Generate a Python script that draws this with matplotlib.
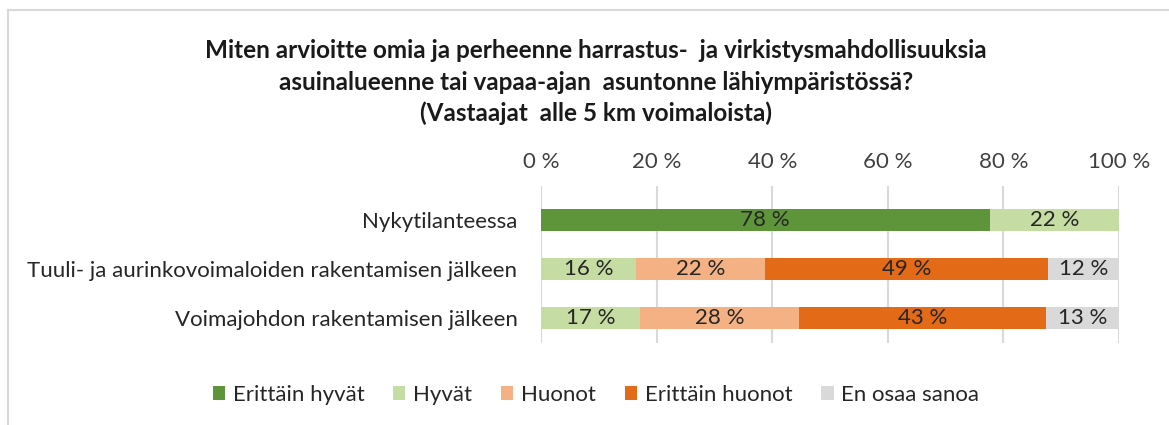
import numpy as np
import matplotlib.pyplot as plt
from matplotlib.lines import Line2D

plt.rcParams['font.family'] = ['Lato', 'DejaVu Sans']

# Data (shares in %)
categories = ['Nykytilanteessa',
              'Tuuli- ja aurinkovoimaloiden rakentamisen jälkeen',
              'Voimajohdon rakentamisen jälkeen']
series = ['Erittäin hyvät', 'Hyvät', 'Huonot', 'Erittäin huonot', 'En osaa sanoa']
erittain_hyvat = [77.6, 0, 0]
hyvat = [22.4, 16.4, 17.1]
huonot = [0, 22.4, 27.6]
erittain_huonot = [0, 48.9, 42.6]
en_osaa = [0, 12.3, 12.7]
colors = ['#5E943A', '#C5DCA2', '#F4B183', '#E36A16', '#D9D9D9']

values = [erittain_hyvat, hyvat, huonot, erittain_huonot, en_osaa]

fig = plt.figure(figsize=(11.69, 4.25), dpi=100)
ax = fig.add_axes([541 / 1169, 1 - 343 / 425, 578 / 1169, 157 / 425])

y = np.arange(len(categories))
left = np.zeros(len(categories))
for name, vals, col in zip(series, values, colors):
    vals = np.array(vals, dtype=float)
    ax.barh(y, vals, left=left, height=0.43, color=col, label=name, zorder=3)
    for yi, v, l in zip(y, vals, left):
        if v > 0:
            ax.text(l + v / 2, yi, f'{round(v)} %', ha='center', va='center',
                    fontsize=16, color='#262626', zorder=4)
    left += vals

ax.set_xlim(0, 100)
ax.set_ylim(2.51, -0.694)
ax.set_xticks(np.arange(0, 101, 20))
ax.set_xticklabels([f'{t} %' for t in range(0, 101, 20)])
ax.xaxis.tick_top()
ax.tick_params(axis='x', length=0, pad=10, labelsize=16, labelcolor='#404040')
ax.set_yticks(y)
ax.set_yticklabels(categories)
ax.tick_params(axis='y', length=0, pad=17, labelsize=16, labelcolor='#262626')
ax.grid(axis='x', color='#D9D9D9', linewidth=1.5, zorder=0)
for s in ax.spines.values():
    s.set_visible(False)

title_lines = ['Miten arvioitte omia ja perheenne harrastus-  ja virkistysmahdollisuuksia',
               'asuinalueenne tai vapaa-ajan  asuntonne lähiympäristössä?',
               '(Vastaajat  alle 5 km voimaloista)']
for line, ypix in zip(title_lines, [50, 82, 113]):
    fig.text(0.51, 1 - ypix / 425, line, ha='center', va='center',
             fontsize=17.5, fontweight='bold', color='#1a1a1a')

handles, labels = ax.get_legend_handles_labels()
fig.legend(handles, labels, loc='center', bbox_to_anchor=(596 / 1169, 1 - 395 / 425),
           ncol=5, frameon=False, fontsize=16, handlelength=0.55, handleheight=0.55,
           handletextpad=0.35, columnspacing=1.3, labelcolor='#262626')

# chart border (left and top edges)
fig.add_artist(Line2D([8 / 1169, 8 / 1169], [0, 1 - 10 / 425], transform=fig.transFigure,
                      color='#D9D9D9', linewidth=1.5))
fig.add_artist(Line2D([8 / 1169, 1], [1 - 10 / 425, 1 - 10 / 425], transform=fig.transFigure,
                      color='#D9D9D9', linewidth=1.5))

fig.savefig('out.png', dpi=100)
